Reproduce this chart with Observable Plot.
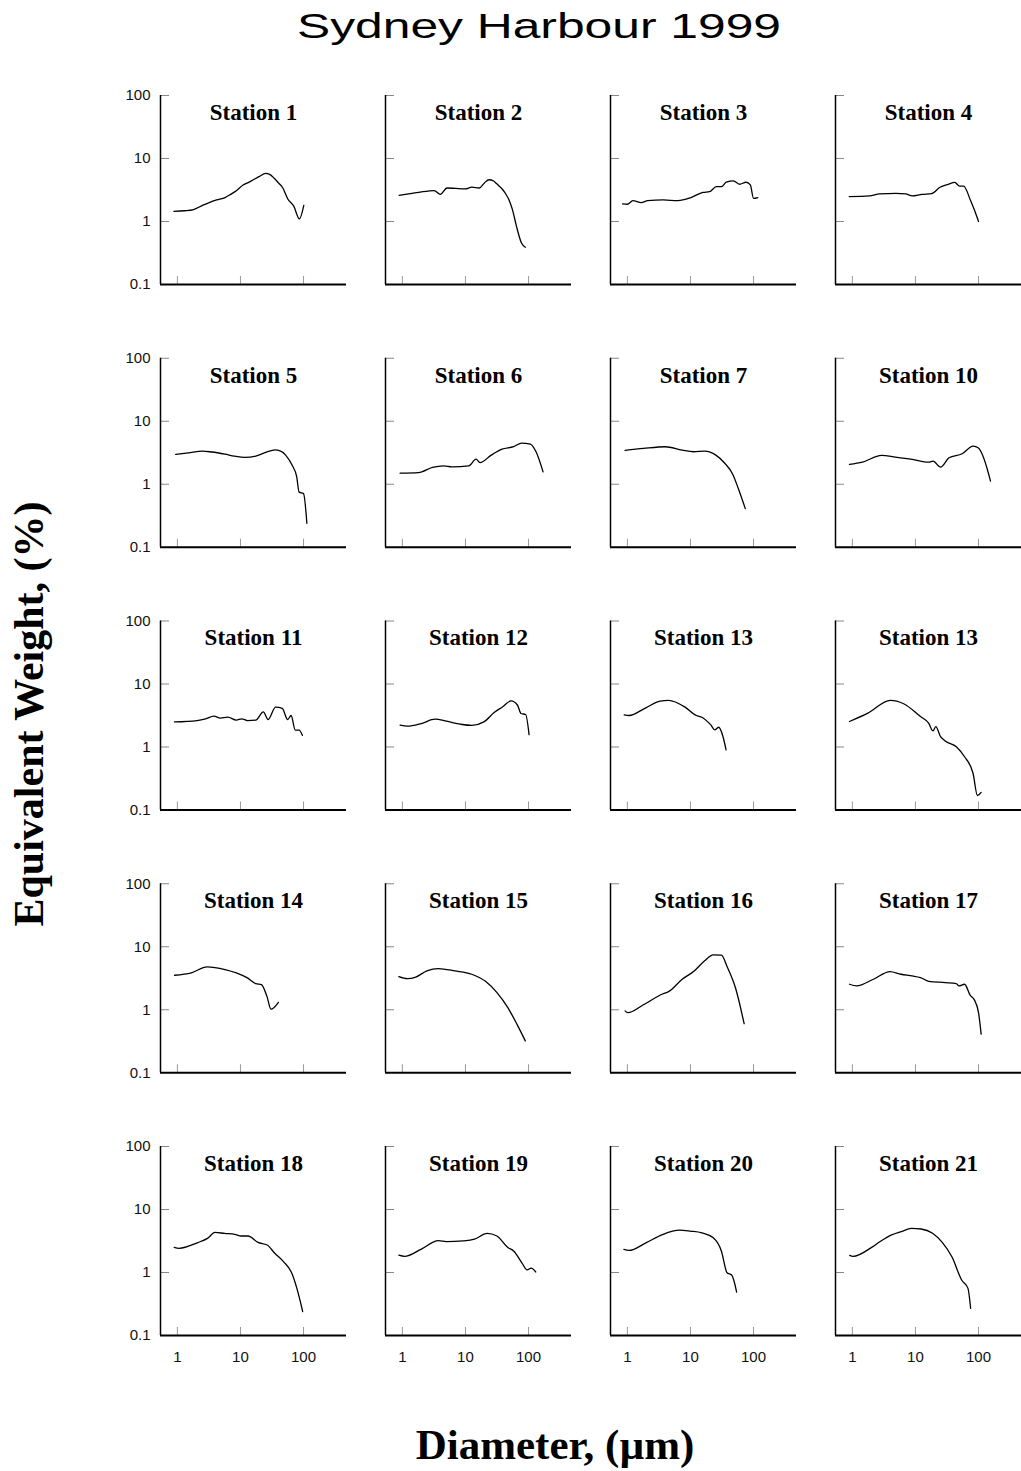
<!DOCTYPE html>
<html><head><meta charset="utf-8">
<script src="https://cdn.jsdelivr.net/npm/d3@7"></script>
<script src="https://cdn.jsdelivr.net/npm/@observablehq/plot@0.6"></script>
<style>
body{margin:0;background:#fff;}
#wrap{position:relative;width:1021px;height:1471px;overflow:hidden;background:#fff;}
#chart,#overlay{position:absolute;left:0;top:0;}
</style></head><body>
<div id="wrap">
<div id="chart"></div>
<svg id="overlay" width="1021" height="1471" style="pointer-events:none">
  <text x="539" y="38" text-anchor="middle" font-family="'Liberation Sans', Arial, sans-serif" font-size="35" textLength="484" lengthAdjust="spacingAndGlyphs" fill="#000">Sydney Harbour 1999</text>
  <text transform="translate(43,714) rotate(-90)" text-anchor="middle" font-family="'Liberation Serif', 'Times New Roman', serif" font-weight="bold" font-size="42" fill="#000">Equivalent Weight, (%)</text>
  <text x="555" y="1459" text-anchor="middle" font-family="'Liberation Serif', 'Times New Roman', serif" font-weight="bold" font-size="43" fill="#000">Diameter, (µm)</text>
</svg>
</div>
<script>
// Panel names (reading order, 4 per row)
const stationNames = ["Station 1","Station 2","Station 3","Station 4",
  "Station 5","Station 6","Station 7","Station 10",
  "Station 11","Station 12","Station 13","Station 13",
  "Station 14","Station 15","Station 16","Station 17",
  "Station 18","Station 19","Station 20","Station 21"];

// Axis ticks
const xTicks = [1, 10, 100];
const yTicks = [0.1, 1, 10, 100];

// [diameter (µm), equivalent weight (%)]
const station1 = [[0.88,1.45],[1.3,1.48],[1.8,1.55],[2.5,1.8],[3.2,2.0],[4.2,2.2],[5.7,2.4],[7,2.7],[8.7,3.1],[11,3.8],[13,4.1],[16,4.6],[20,5.2],[25,5.8],[29,5.6],[34,4.9],[40,4.1],[47,3.4],[56,2.3],[70,1.75],[86,1.1],[101,1.8]];
const station2 = [[0.89,2.6],[1.8,2.9],[3.2,3.1],[4.0,2.7],[5.1,3.4],[7,3.35],[9.9,3.3],[12.6,3.5],[16.6,3.4],[20,4.1],[23.6,4.6],[28,4.4],[31,4.0],[42,2.9],[50,2.1],[56,1.5],[64,0.86],[77,0.46],[89,0.39]];
const station3 = [[0.84,1.9],[1.0,1.88],[1.22,2.14],[1.66,2.0],[2.1,2.14],[3.7,2.2],[6.3,2.14],[10.2,2.4],[15.8,2.9],[20,2.97],[25.8,3.57],[31,3.57],[37,4.2],[48,4.4],[60,3.9],[76,4.2],[89,3.8],[100,2.33],[117,2.4]];
const station4 = [[0.89,2.49],[1.87,2.55],[2.7,2.74],[4.9,2.8],[7.0,2.74],[8.9,2.55],[12.7,2.7],[18,2.77],[24.5,3.5],[33,3.9],[42,4.17],[50,3.65],[58,3.65],[75,2.13],[87,1.48],[100,1.0]];
const station5 = [[0.94,2.97],[1.5,3.15],[2.5,3.36],[3.5,3.25],[5.7,3.0],[8,2.8],[11.7,2.67],[17.5,2.8],[25,3.2],[36,3.5],[45,3.3],[52,2.9],[66,2.0],[78,1.31],[85,0.75],[100,0.71],[113,0.24]];
const station6 = [[0.92,1.5],[1.8,1.53],[3.0,1.85],[4.5,1.96],[6.1,1.89],[11.3,1.96],[14.7,2.5],[17,2.2],[25.6,2.9],[38,3.6],[58,3.95],[78,4.5],[107,4.35],[131,3.3],[170,1.57]];
const station7 = [[0.92,3.44],[1.8,3.7],[4.0,3.94],[7.4,3.48],[11.2,3.28],[16.8,3.36],[25.3,2.9],[34.4,2.19],[47,1.43],[57,0.87],[74,0.41]];
const station10 = [[0.9,2.06],[1.44,2.24],[2.9,2.87],[4.8,2.7],[8.9,2.48],[16.2,2.24],[19,2.33],[25,1.87],[34,2.63],[55,3.05],[82,4.04],[100,3.75],[122,2.54],[155,1.12]];
const station11 = [[0.9,2.5],[2.05,2.63],[2.8,2.8],[3.8,3.09],[4.8,2.87],[6.3,2.97],[8.6,2.67],[10.5,2.8],[12.9,2.63],[17.5,2.67],[23,3.6],[27.5,2.73],[36,4.3],[46,4.1],[56,2.73],[63.5,3.16],[74,1.85],[85,1.85],[96,1.53]];
const station12 = [[0.92,2.22],[1.2,2.14],[2.0,2.36],[3.3,2.76],[5.0,2.57],[8.3,2.3],[12.6,2.2],[19.6,2.5],[28.5,3.53],[39,4.35],[53,5.4],[67,4.6],[76,3.4],[90,3.28],[102,1.57]];
const station13a = [[0.89,3.24],[1.06,3.16],[1.96,4.19],[3.3,5.35],[4.5,5.5],[8.2,4.3],[12.4,3.16],[15.2,2.97],[21,2.24],[24.4,1.87],[28,2.06],[32.5,1.51],[36.7,0.9]];
const station13b = [[0.9,2.54],[1.76,3.44],[4.0,5.5],[6.5,4.86],[12,3.05],[16.2,2.39],[19,1.8],[21,2.1],[25,1.46],[29.6,1.25],[44.5,1.01],[60,0.7],[82,0.38],[96,0.17],[110,0.19]];
const station14 = [[0.9,3.53],[1.67,3.85],[2.96,4.8],[5.7,4.35],[8.6,3.85],[12.9,3.2],[17.5,2.6],[21.5,2.5],[26.3,1.63],[30.5,1.02],[40,1.31]];
const station15 = [[0.88,3.36],[1.2,3.12],[1.63,3.3],[2.45,4.14],[3.7,4.5],[6.8,4.14],[12.6,3.66],[21,2.8],[31.6,1.87],[47,1.08],[66,0.58],[89,0.32]];
const station16 = [[0.92,0.96],[1.02,0.9],[1.77,1.19],[3.6,1.78],[4.5,1.94],[7.4,3.05],[11.2,4.04],[16.8,6.0],[23,7.45],[31,7.36],[38,4.86],[52,2.19],[71,0.6]];
const station17 = [[0.9,2.54],[1.17,2.39],[2.15,3.05],[3.95,4.04],[5.9,3.66],[8.9,3.44],[12,3.24],[16.2,2.83],[29.6,2.7],[44.5,2.6],[49,2.39],[60,2.54],[74,1.69],[85,1.46],[100,0.9],[110,0.41]];
const station18 = [[0.89,2.5],[1.06,2.42],[2.1,2.98],[3.0,3.48],[3.95,4.33],[5.6,4.17],[8.1,4.03],[10.3,3.8],[13.2,3.8],[19,3.0],[26.5,2.73],[35,2.02],[48,1.49],[65,0.98],[78,0.57],[97,0.24]];
const station19 = [[0.88,1.88],[1.08,1.8],[2.0,2.35],[3.7,3.2],[5.0,3.1],[9.2,3.18],[13.9,3.38],[22,4.17],[31.5,3.8],[47,2.5],[58,2.2],[78,1.44],[95,1.1],[110,1.17],[130,1.02]];
const station20 = [[0.88,2.32],[1.06,2.24],[1.96,2.95],[3.6,4.0],[6.7,4.7],[10,4.53],[15.2,4.26],[23,3.55],[31,2.18],[38,0.99],[45,0.91],[54,0.49]];
const station21 = [[0.91,1.87],[1.02,1.8],[2.05,2.53],[2.76,3.1],[4.2,3.95],[6.0,4.47],[8.6,5.0],[12.3,4.9],[18.7,4.2],[26.6,3.0],[38,1.76],[54,0.76],[68,0.56],[75,0.27]];

const series = [station1,station2,station3,station4,station5,station6,station7,station10,
  station11,station12,station13a,station13b,station14,station15,station16,station17,
  station18,station19,station20,station21];

const xDomain = [0.54, 480];
const yDomain = [0.1, 100];

const rows = [];
series.forEach((pts, i) => pts.forEach(([d, v]) => rows.push({i, col: i % 4, row: Math.floor(i / 4), d, v})));
const labels = stationNames.map((name, i) => ({name, col: i % 4, row: Math.floor(i / 4)}));

const chart = Plot.plot({
  width: 1021,
  height: 1471,
  marginTop: 95,
  marginBottom: 136,
  marginLeft: 160,
  marginRight: 0,
  style: {fontFamily: "'Liberation Sans', Arial, sans-serif", fontSize: "15px", color: "#111", background: "transparent", overflow: "visible"},
  fx: {axis: null, domain: [0,1,2,3], paddingInner: 0.1733, paddingOuter: 0, round: false},
  fy: {axis: null, domain: [0,1,2,3,4], paddingInner: 0.2807, paddingOuter: 0, round: false},
  x: {type: "log", domain: xDomain, ticks: xTicks, tickFormat: d => String(d), tickSize: 0, tickPadding: 16, label: null},
  y: {type: "log", domain: yDomain, ticks: yTicks, tickFormat: d => String(d), tickSize: 0, tickPadding: 10, label: null},
  marks: [
    Plot.tickY(xTicks, {y: d => d, insetRight: 177, stroke: "#888", strokeWidth: 1}),
    Plot.tickX(xTicks, {x: d => d, insetTop: 181, stroke: "#999", strokeWidth: 1}),
    Plot.ruleX([xDomain[0]], {stroke: "#000", strokeWidth: 1.5}),
    Plot.ruleY([yDomain[0]], {stroke: "#000", strokeWidth: 2}),
    Plot.line(rows, {x: "d", y: "v", z: "i", fx: "col", fy: "row", stroke: "#000", strokeWidth: 1.3, curve: "monotone-x"}),
    Plot.text(labels, {fx: "col", fy: "row", text: "name", frameAnchor: "top", lineAnchor: "middle", dy: 17,
      fontFamily: "'Liberation Serif', 'Times New Roman', serif", fontWeight: "bold", fontSize: 23, fill: "#000"})
  ]
});
document.getElementById("chart").appendChild(chart);
</script>
</body></html>
